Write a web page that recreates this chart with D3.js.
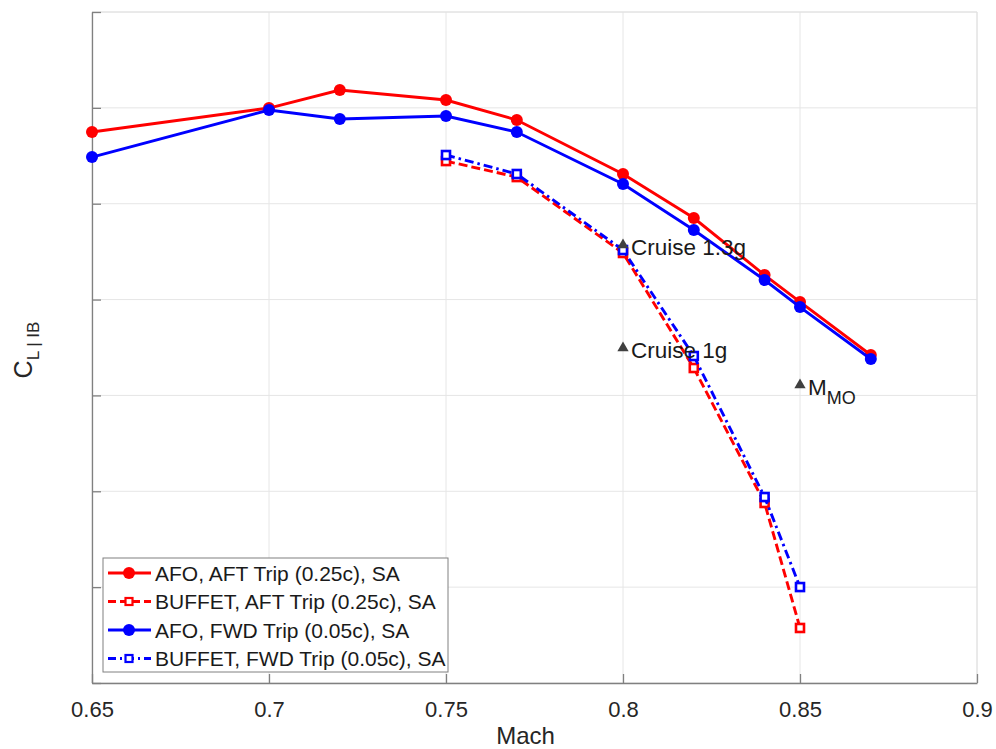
<!DOCTYPE html>
<html><head><meta charset="utf-8">
<script src="https://cdn.jsdelivr.net/npm/d3@7"></script>
<style>body{margin:0;background:#fff}svg{display:block}text{font-family:"Liberation Sans",Arial,sans-serif}</style>
</head><body><svg id="c" width="996" height="749"></svg>
<script>
const machAfo = [0.65,0.70,0.72,0.75,0.77,0.80,0.82,0.84,0.85,0.87];
const afoAft = [5.748,5.998,6.186,6.082,5.873,5.310,4.851,4.256,3.975,3.422];
const afoFwd = [5.487,5.977,5.884,5.915,5.748,5.205,4.726,4.204,3.922,3.380];
const machBuf = [0.75,0.77,0.80,0.82,0.84,0.85];
const bufAft = [5.445,5.278,4.486,3.286,1.878,0.574];
const bufFwd = [5.508,5.310,4.517,3.411,1.940,1.001];
const xTicks = [0.65,0.7,0.75,0.8,0.85,0.9];
const xTickLabels = ["0.65","0.7","0.75","0.8","0.85","0.9"];
const yTicks = [0,1,2,3,4,5,6,7];
const annot = [{m:0.80,v:4.569,t:"Cruise 1.3g"},{m:0.80,v:3.495,t:"Cruise 1g"},{m:0.85,v:3.109,t:"M",sub:"MO"}];
const seriesNames = ["AFO, AFT Trip (0.25c), SA","BUFFET, AFT Trip (0.25c), SA","AFO, FWD Trip (0.05c), SA","BUFFET, FWD Trip (0.05c), SA"];

const L=92,R=977,T=12,B=683;
const svg=d3.select("#c");
const x=d3.scaleLinear().domain([0.65,0.9]).range([L,R]);
const y=d3.scaleLinear().domain([0,7]).range([B,T]);

svg.append("g").selectAll("line").data(xTicks).join("line")
 .attr("x1",d=>x(d)).attr("x2",d=>x(d)).attr("y1",T).attr("y2",B).attr("stroke","#e6e6e6").attr("stroke-width",1);
svg.append("g").selectAll("line").data(yTicks).join("line")
 .attr("y1",d=>y(d)).attr("y2",d=>y(d)).attr("x1",L).attr("x2",R).attr("stroke","#e6e6e6").attr("stroke-width",1);
svg.append("line").attr("x1",L).attr("x2",R).attr("y1",T).attr("y2",T).attr("stroke","#e0e0e0");
svg.append("line").attr("x1",R).attr("x2",R).attr("y1",T).attr("y2",B).attr("stroke","#e0e0e0");

const xa=svg.append("g").attr("transform",`translate(0,${B})`)
 .call(d3.axisBottom(x).tickValues(xTicks).tickFormat((d,i)=>xTickLabels[i]).tickSizeInner(-9).tickSizeOuter(0).tickPadding(18));
xa.select(".domain").attr("stroke","#808080").attr("stroke-width",1.3);
xa.selectAll(".tick line").attr("stroke","#808080").attr("stroke-width",1.3);
xa.selectAll("text").attr("font-size",22).attr("fill","#262626").attr("font-family","Liberation Sans, Arial");
const ya=svg.append("g").attr("transform",`translate(${L},0)`)
 .call(d3.axisLeft(y).tickValues(yTicks).tickFormat("").tickSizeInner(-9).tickSizeOuter(0));
ya.select(".domain").attr("stroke","#808080").attr("stroke-width",1.3);
ya.selectAll(".tick line").attr("stroke","#808080").attr("stroke-width",1.3);

svg.append("text").attr("x",(L+R)/2-9).attr("y",744).attr("text-anchor","middle").attr("font-size",24).attr("fill","#262626").text("Mach");
const yl=svg.append("text").attr("transform","translate(32,350) rotate(-90)").attr("text-anchor","middle").attr("fill","#262626");
yl.append("tspan").attr("font-size",25).text("C");
yl.append("tspan").attr("font-size",17).attr("dy",7).text("L | IB");

const line=d3.line().x(d=>x(d[0])).y(d=>y(d[1]));

function drawSeries(xs,vs,color,dash,marker){
 const pts=xs.map((m,i)=>[m,vs[i]]);
 svg.append("path").datum(pts).attr("d",line).attr("fill","none").attr("stroke",color).attr("stroke-width",2.9).attr("stroke-dasharray",dash);
 if(marker==="circle"){
  svg.append("g").selectAll("circle").data(pts).join("circle").attr("cx",d=>x(d[0])).attr("cy",d=>y(d[1])).attr("r",6).attr("fill",color);
 } else {
  svg.append("g").selectAll("rect").data(pts).join("rect").attr("x",d=>x(d[0])-4).attr("y",d=>y(d[1])-4).attr("width",8).attr("height",8).attr("fill","#fff").attr("stroke",color).attr("stroke-width",2.6);
 }
}
drawSeries(machBuf,bufAft,"#ff0000","9,4","square");
drawSeries(machBuf,bufFwd,"#0000ff","9,4,2.5,4","square");
drawSeries(machAfo,afoAft,"#ff0000",null,"circle");
drawSeries(machAfo,afoFwd,"#0000ff",null,"circle");

const tri=d3.symbol().type(d3.symbolTriangle).size(55);
annot.forEach(a=>{
 svg.append("path").attr("d",tri).attr("transform",`translate(${x(a.m)},${y(a.v)})`).attr("fill","#404040");
 const t=svg.append("text").attr("x",x(a.m)+8).attr("y",y(a.v)+10).attr("font-size",22.5).attr("fill","#1a1a1a");
 t.append("tspan").text(a.t);
 if(a.sub) t.append("tspan").attr("dy",9).attr("font-size",18).text(a.sub);
});

const lg=svg.append("g");
lg.append("rect").attr("x",103).attr("y",558).attr("width",345).attr("height",114).attr("fill","#fff").attr("stroke","#808080").attr("stroke-width",1);
const lcol=["#ff0000","#ff0000","#0000ff","#0000ff"], ldash=[null,"8,4",null,"8,4,2,4"], lmk=["circle","square","circle","square"];
seriesNames.forEach((n,i)=>{
 const yy=573+i*28.5;
 lg.append("line").attr("x1",108).attr("x2",151).attr("y1",yy).attr("y2",yy).attr("stroke",lcol[i]).attr("stroke-width",2.9).attr("stroke-dasharray",ldash[i]);
 if(lmk[i]==="circle") lg.append("circle").attr("cx",129).attr("cy",yy).attr("r",6).attr("fill",lcol[i]);
 else lg.append("rect").attr("x",125.5).attr("y",yy-3.5).attr("width",7).attr("height",7).attr("fill","#fff").attr("stroke",lcol[i]).attr("stroke-width",2.2);
 lg.append("text").attr("x",155).attr("y",yy+7.5).attr("font-size",21).attr("fill","#1a1a1a").text(n);
});
</script></body></html>
